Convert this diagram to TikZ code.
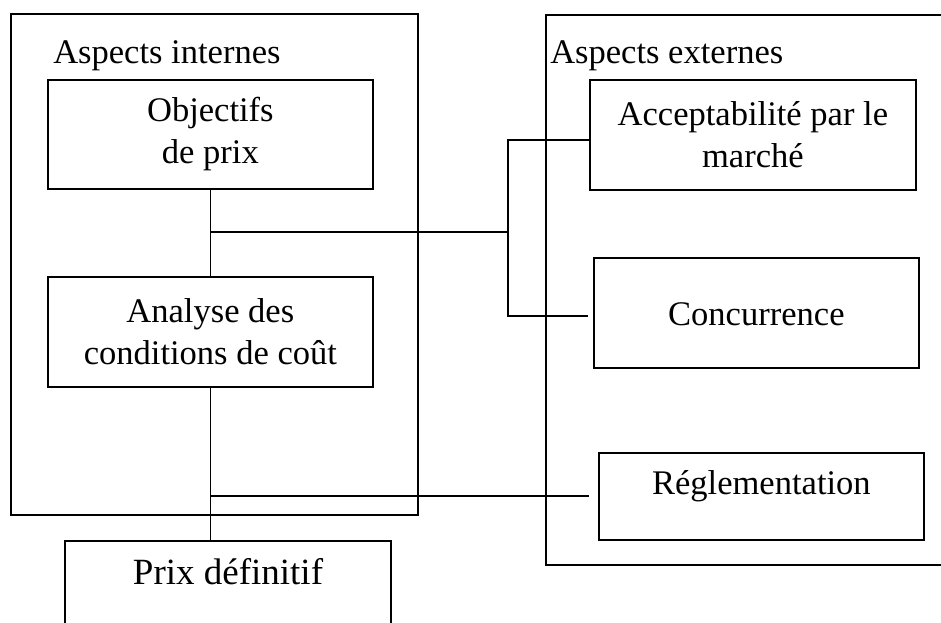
\documentclass[tikz,border=0pt]{standalone}
\usepackage{fontspec}
\setmainfont{Liberation Serif}
\tikzset{
    zone/.style={
        rectangle, draw=black, line width=1.3pt,
        anchor=north west, inner sep=0pt
    },
    block/.style={
        rectangle, draw=black, line width=1.3pt,
        fill=white, inner sep=0pt, align=center,
        anchor=north west, font=\fontsize{25.9}{31.5}\selectfont
    },
    title/.style={anchor=base west, inner sep=0pt, font=\fontsize{25.9}{31.5}\selectfont},
    link/.style={draw=black, line width=1.3pt}
}
\begin{document}
\begin{tikzpicture}[x=0.75pt,y=-0.75pt]
\useasboundingbox (0,0) rectangle (941,622);
\clip (0,0) rectangle (941,622);

% Zones
\node[zone, minimum width=305.25pt, minimum height=375.75pt] (intern) at (10,13) {};
\node[zone, minimum width=315pt, minimum height=412.5pt] (extern) at (545,14) {};
\node[title] (tintern) at (53,63) {Aspects internes};
\node[title] (textern) at (550,63) {Aspects externes};

% Internal aspects
\node[block, minimum width=243.75pt, minimum height=81.75pt] (obj) at (47,79) {Objectifs\\de prix};
\node[block, minimum width=243.75pt, minimum height=82.5pt] (ana) at (47,276) {Analyse des\\conditions de coût};

% External aspects
\node[block, minimum width=244.5pt, minimum height=82.5pt] (acc) at (589,79) {Acceptabilité par le\\marché};
\node[block, minimum width=243.75pt, text height=51pt, text depth=31.5pt] (conc) at (593,257) {Concurrence};
\node[block, minimum width=243.75pt, text height=31.5pt, text depth=33.75pt] (regl) at (598,452) {Réglementation};

% Result
\node[block, anchor=north, minimum width=244.5pt, text height=33pt, text depth=75pt,
      font=\fontsize{27.75}{33}\selectfont] (prix) at (228,540) {Prix définitif};

% Links
\draw[link] (obj.south) -- (ana.north);
\draw[link] (ana.south) -- (ana.south |- prix.north);

\coordinate (bus) at (508,232);
\coordinate (bustop) at (508,140);
\coordinate (busbot) at (508,316);
\coordinate (concin) at (588,316);
\coordinate (reglin) at (589,496);

\draw[link] (obj.south |- bus) -- (bus);
\draw[link] (acc.west |- bustop) -- (bustop) -- (busbot) -- (concin);
\draw[link] (ana.south |- reglin) -- (reglin);

\end{tikzpicture}
\end{document}
